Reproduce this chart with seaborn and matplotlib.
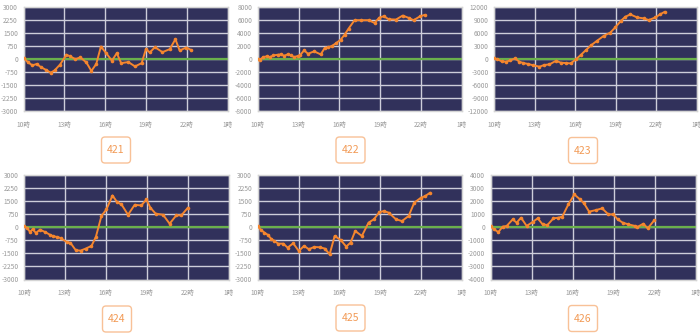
import matplotlib
matplotlib.use("Agg")
import matplotlib.pyplot as plt
from matplotlib.patches import FancyBboxPatch
import seaborn as sns
import pandas as pd

# ---------------- data ----------------
x_tick_pos = [10, 13, 16, 19, 22, 25]
x_tick_labels = ["10時", "13時", "16時", "19時", "22時", "1時"]

panel_names = ["421", "422", "423", "424", "425", "426"]

hours_421 = [10.0, 10.34, 10.66, 10.97, 11.27, 11.63, 12.0, 12.29, 12.68, 13.16, 13.45, 13.82,
             14.18, 14.62, 14.99, 15.35, 15.69, 16.08, 16.5, 16.86, 17.18, 17.71, 18.2, 18.69,
             19.0, 19.29, 19.66, 20.22, 20.75, 21.17, 21.48, 21.97, 22.34]
values_421 = [50, -210, -380, -300, -475, -630, -800, -665, -340, 230, 130, -20,
              80, -210, -700, -300, 700, 320, -110, 320, -250, -190, -440, -250,
              550, 360, 665, 380, 550, 1120, 475, 645, 495]

hours_422 = [10.0, 10.17, 10.41, 10.66, 10.9, 11.15, 11.46, 11.71, 11.95, 12.2, 12.44, 12.68,
             12.93, 13.1, 13.41, 13.7, 14.15, 14.63, 14.93, 15.17, 15.46, 15.78, 16.1, 16.39,
             16.68, 17.12, 17.6, 18.15, 18.59, 18.95, 19.27, 19.63, 20.17, 20.66, 21.1, 21.46,
             21.95, 22.29]
values_422 = [0, -150, 260, 360, 260, 510, 610, 670, 460, 670, 510, 260,
              410, 510, 1280, 770, 1130, 670, 1640, 1740, 1950, 2410, 2920, 3690,
              4610, 5900, 5900, 5900, 5490, 6310, 6510, 6050, 6000, 6610, 6260, 5900,
              6510, 6720]

hours_423 = [10.0, 10.25, 10.57, 10.89, 11.19, 11.56, 11.88, 12.18, 12.55, 12.92, 13.37, 13.71,
             14.11, 14.6, 14.95, 15.35, 15.69, 16.09, 16.44, 16.83, 17.2, 17.62, 18.12, 18.61,
             18.99, 19.41, 19.73, 20.1, 20.6, 21.09, 21.46, 21.96, 22.33, 22.65]
values_423 = [100, -80, -610, -680, -380, 80, -680, -990, -1210, -1520, -1820, -1440,
              -1290, -460, -910, -990, -1060, -80, 910, 2050, 3110, 4100, 5240, 6000,
              7220, 8730, 9650, 10180, 9490, 9270, 8890, 9490, 10250, 10790]

hours_424 = [10.0, 10.24, 10.44, 10.63, 10.88, 11.17, 11.54, 11.9, 12.15, 12.44, 12.68, 13.12,
             13.41, 13.8, 14.15, 14.54, 14.95, 15.27, 15.68, 16.05, 16.49, 16.83, 17.15, 17.63,
             18.12, 18.61, 18.98, 19.27, 19.66, 20.2, 20.68, 21.17, 21.54, 22.02]
values_424 = [40, -60, -285, -130, -340, -150, -285, -440, -530, -570, -630, -850,
              -910, -1330, -1350, -1230, -1080, -570, 630, 1010, 1800, 1420, 1290, 700,
              1270, 1230, 1580, 1100, 760, 700, 190, 665, 665, 1100]

hours_425 = [10.0, 10.24, 10.49, 10.73, 10.98, 11.22, 11.51, 11.88, 12.2, 12.61, 13.02, 13.41,
             13.76, 14.15, 14.56, 14.93, 15.29, 15.66, 16.1, 16.51, 16.83, 17.17, 17.66, 18.15,
             18.54, 18.95, 19.27, 19.63, 20.17, 20.61, 21.1, 21.51, 22.0, 22.32, 22.68]
values_425 = [50, -170, -320, -440, -665, -800, -950, -950, -1180, -930, -1370, -1080,
              -1270, -1140, -1160, -1230, -1560, -510, -740, -1120, -890, -230, -510, 250,
              440, 850, 910, 820, 440, 340, 630, 1390, 1670, 1770, 1960]

hours_426 = [10.0, 10.24, 10.56, 10.88, 11.17, 11.61, 11.9, 12.22, 12.63, 13.07, 13.44, 13.8,
             14.15, 14.59, 14.95, 15.24, 15.68, 16.12, 16.54, 16.83, 17.2, 17.71, 18.15, 18.61,
             18.98, 19.29, 19.66, 20.07, 20.56, 20.73, 21.17, 21.49, 21.98]
values_426 = [50, -180, -380, 30, 80, 580, 330, 710, 80, 380, 660, 200,
              150, 660, 710, 790, 1720, 2480, 2100, 1800, 1170, 1290, 1420, 960,
              960, 580, 330, 200, 80, 0, 250, -100, 530]

y_limits = [3000, 8000, 12000, 3000, 3000, 4000]
y_steps = [750, 2000, 3000, 750, 750, 1000]

all_hours = [hours_421, hours_422, hours_423, hours_424, hours_425, hours_426]
all_values = [values_421, values_422, values_423, values_424, values_425, values_426]

# ---------------- style ----------------
sns.set_theme(style="white")
plt.rcParams["font.family"] = ["Noto Sans CJK JP", "DejaVu Sans"]

W, H = 700, 335
fig = plt.figure(figsize=(7.0, 3.35), dpi=100)
fig.patch.set_facecolor("white")

NAVY = "#31315b"
GRID = "#cdcdda"
ZERO = "#6ab04c"
ORANGE = "#f5862e"
TICKC = "#9a9a9a"

# axes pixel rects: (left, top, width, height)
rects = [(23.5, 6.5, 204, 104.5), (257.7, 6.5, 204, 104.5), (494, 6.5, 202.5, 104.5),
         (24, 174.5, 204.5, 105), (257.7, 174.5, 204, 105), (490.7, 174.5, 205, 105)]
boxes = [(116, 150), (350.5, 150), (583, 150.5), (117, 319), (350.5, 318), (583, 318.5)]

for i in range(6):
    l, t, w, h = rects[i]
    ax = fig.add_axes([l / W, 1 - (t + h) / H, w / W, h / H])
    ax.set_facecolor(NAVY)
    lim = y_limits[i]
    step = y_steps[i]
    yticks = list(range(-lim, lim + 1, step))
    ax.set_xlim(10, 25)
    ax.set_ylim(-lim, lim)
    ax.set_yticks(yticks)
    ax.set_yticklabels([str(v) for v in yticks])
    ax.set_xticks(x_tick_pos)
    ax.set_xticklabels(x_tick_labels)
    ax.grid(True, color=GRID, linewidth=1.0, zorder=0)
    ax.set_axisbelow(True)
    ax.axhline(0, color=ZERO, linewidth=1.6, zorder=2)
    df = pd.DataFrame({"hour": all_hours[i], "value": all_values[i]})
    sns.lineplot(data=df, x="hour", y="value", ax=ax, color=ORANGE, linewidth=1.4,
                 marker="o", markersize=2.6, markeredgewidth=0, zorder=3)
    ax.set_xlabel("")
    ax.set_ylabel("")
    ax.tick_params(axis="both", labelsize=4.8, colors=TICKC, length=2, width=0.6, pad=2)
    ax.tick_params(axis="x", pad=5)
    for s in ax.spines.values():
        s.set_color("#d4d4d4")
        s.set_linewidth(1.0)

    # label box
    cx, cy = boxes[i]
    ov = fig.add_axes([0, 0, 1, 1], facecolor="none")
    ov.set_xlim(0, W)
    ov.set_ylim(H, 0)
    ov.axis("off")
    bw, bh = 29, 26
    ov.add_patch(FancyBboxPatch((cx - bw / 2, cy - bh / 2), bw, bh,
                                boxstyle="round,pad=0,rounding_size=3.5",
                                facecolor="white", edgecolor="#f8c197", linewidth=1.0))
    ov.text(cx, cy, panel_names[i], ha="center", va="center", fontsize=7.5,
            color="#f29a55")

fig.savefig("out.png", dpi=100)
